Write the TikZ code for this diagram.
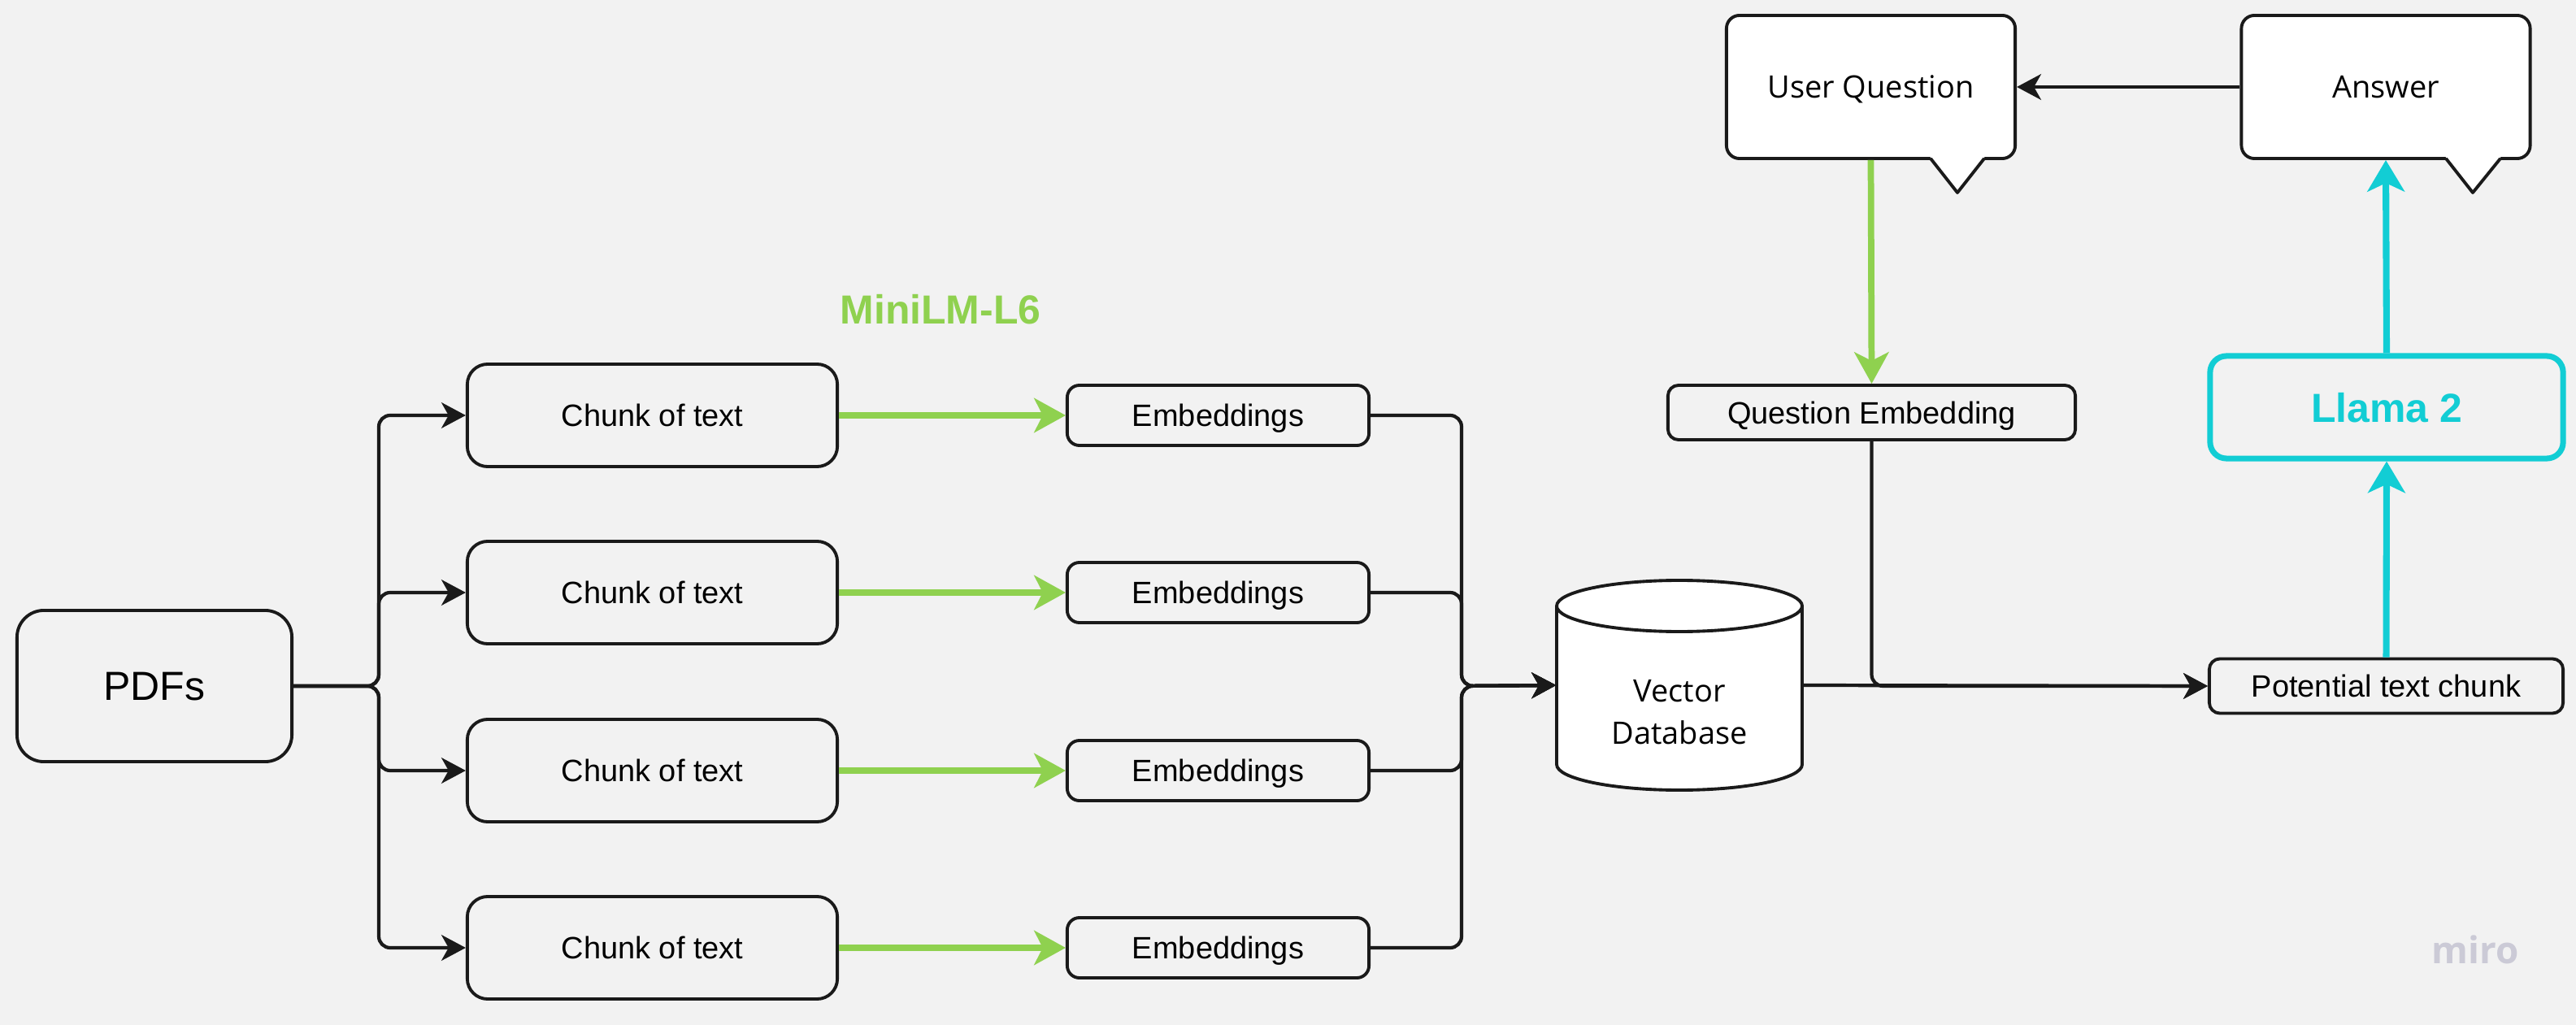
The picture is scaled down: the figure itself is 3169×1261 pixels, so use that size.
\documentclass[tikz,border=0pt]{standalone}
\usepackage{fontspec}
\setmainfont{Liberation Sans}
\newfontfamily\opensans{Open Sans}
\usepackage{tikz}
\usetikzlibrary{calc,arrows.meta}
\definecolor{bg}{HTML}{F2F2F2}
\definecolor{ink}{HTML}{1A1A1A}
\definecolor{mgreen}{HTML}{8FD14F}
\definecolor{mcyan}{HTML}{12CDD4}
\definecolor{wmark}{HTML}{CBCAD6}
\tikzset{
  box/.style={draw=ink, line width=1.1pt, rounded corners=0.25cm, fill=bg, inner sep=0pt, text depth=0pt, font=\fontsize{10.8}{13}\selectfont},
  chunkbox/.style={box, minimum width=4.55cm, minimum height=1.26cm},
  embbox/.style={box, rounded corners=0.15cm, minimum width=3.71cm, minimum height=0.74cm},
  smallbox/.style={box, rounded corners=0.13cm, minimum height=0.67cm},
  bubble/.style={box, fill=white, rounded corners=0.16cm, minimum width=3.55cm, minimum height=1.76cm, font=\opensans\fontsize{10.8}{13}\selectfont},
  conn/.style={draw=ink, line width=1.2pt, rounded corners=0.14cm, -{Stealth[length=8.5pt,width=9pt,inset=2.5pt]}},
  garrow/.style={draw=mgreen, line width=2.2pt, -{Stealth[length=11pt,width=12pt,inset=3pt]}},
  carrow/.style={draw=mcyan, line width=2.3pt, -{Stealth[length=11pt,width=13pt,inset=3pt]}},
  boldlab/.style={font=\bfseries\fontsize{14.2}{17}\selectfont},
}

\begin{document}
\begin{tikzpicture}[x=0.01cm, y=-0.01cm]
  \fill[bg] (0,0) rectangle (3169,1261);
  \useasboundingbox (0,0) rectangle (3169,1261);

  \coordinate (split) at (466,844);
  \coordinate (join) at (1798,844);

  % left side
  \node[box, rounded corners=0.33cm, minimum width=3.38cm, minimum height=1.86cm, font=\fontsize{14.2}{17}\selectfont] (pdfs) at (190,844) {PDFs};
  \foreach \i/\y in {1/511,2/729,3/948,4/1166}{
    \node[chunkbox] (chunk\i) at (802.5,\y) {Chunk of text};
    \node[embbox] (emb\i) at (1498.5,\y) {Embeddings};
  }
  \node[boldlab, text=mgreen] (minilm) at (1157,381) {MiniLM-L6};

  \foreach \i in {1,...,4}{
    \draw[conn] (pdfs.east) -- (split) |- (chunk\i.west);
    \draw[garrow] (chunk\i.east) -- (emb\i.west);
  }

  % vector store
  \node[minimum width=3.02cm, minimum height=2.58cm, inner sep=0pt] (db) at (2066,843) {};
  \draw[draw=ink, line width=1.1pt, fill=white] (1915,745.5) -- (1915,940.5)
    arc[start angle=180, end angle=0, x radius=151, y radius=31.5] -- (2217,745.5)
    arc[start angle=0, end angle=-180, x radius=151, y radius=31.5] -- cycle;
  \draw[draw=ink, line width=1.1pt] (1915,745.5) arc[start angle=180, end angle=0, x radius=151, y radius=31.5];
  \node[align=center, font=\opensans\fontsize{10.8}{14.8}\selectfont] (dblab) at (2066,876) {Vector\\Database};

  \foreach \i in {1,...,4}
    \draw[conn] (emb\i.east) -| (join) -- (db.west);

  % question side
  \node[bubble] (uq) at (2301.5,107) {User Question};
  \fill[white] (2373,191) -- (2408,237) -- (2443,191) -- cycle;
  \draw[ink, line width=1.1pt, line join=round] (2375,195) -- (2408,237) -- (2441,195);

  \node[bubble] (ans) at (2935,107) {Answer};
  \fill[white] (3007,191) -- (3042,237) -- (3078,191) -- cycle;
  \draw[ink, line width=1.1pt, line join=round] (3009,195) -- (3042,237) -- (3076,195);

  \node[smallbox, minimum width=5.01cm] (qe) at (2302.5,507.5) {Question Embedding};
  \node[smallbox, minimum width=4.35cm] (ptc) at (2935.5,844) {Potential text chunk};
  \node[box, draw=mcyan, line width=2pt, rounded corners=0.2cm, minimum width=4.34cm, minimum height=1.26cm,
        text=mcyan, boldlab] (llama) at (2936,501) {Llama 2};

  \draw[conn] (ans.west) -- (uq.east);
  \draw[garrow] (uq.south) -- (qe.north);
  \draw[conn] (qe.south) |- (ptc.west);
  \draw[conn] (db.east) -- (ptc.west);
  \draw[carrow] (ptc.north) -- (llama.south);
  \draw[carrow] (llama.north) -- (ans.south);

  \node[text=wmark, font=\opensans\bfseries\fontsize{13}{15}\selectfont] (miro) at (3045,1168) {miro};
\end{tikzpicture}
\end{document}
